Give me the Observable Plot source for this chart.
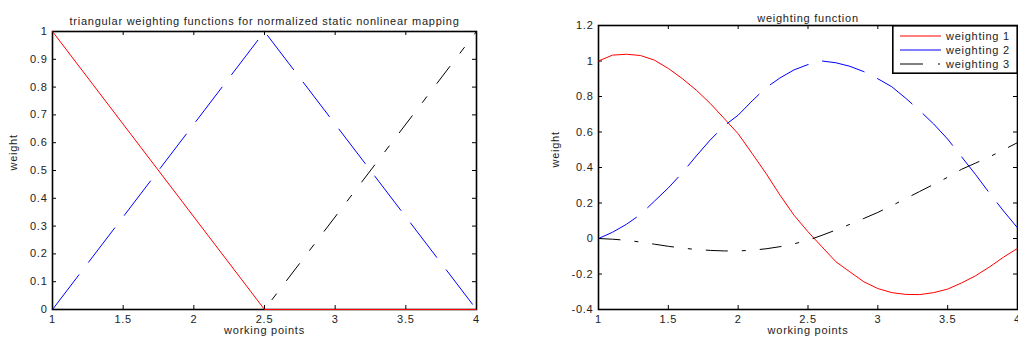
<!DOCTYPE html>
<html><head><meta charset="utf-8">
<script src="https://cdn.jsdelivr.net/npm/d3@7"></script>
<script src="https://cdn.jsdelivr.net/npm/@observablehq/plot@0.6"></script>
<style>
body{margin:0;background:#fff;}
#wrap{position:relative;width:1018px;height:340px;overflow:hidden;font-family:"Liberation Sans",Arial,sans-serif;letter-spacing:0.75px;}
#wrap > svg, #wrap > div{position:absolute;}
</style></head><body><div id="wrap"></div>
<script>
// ---- left panel data (triangular weighting functions) ----
const triX = [1, 2.5, 4];
const tri1 = [1, 0, 0];
const tri2 = [0, 1, 0];
const tri3 = [0, 0, 1];
const leftXTicks = [1, 1.5, 2, 2.5, 3, 3.5, 4];
const leftYTicks = [0, 0.1, 0.2, 0.3, 0.4, 0.5, 0.6, 0.7, 0.8, 0.9, 1];
const leftTitle = "triangular weighting functions for normalized static nonlinear mapping";

// ---- right panel data (weighting function) ----
const wX = [1, 1.1, 1.2, 1.3, 1.4, 1.5, 1.6, 1.7, 1.8, 1.9, 2, 2.1, 2.2, 2.3, 2.4, 2.5, 2.6, 2.7, 2.8, 2.9, 3, 3.1, 3.2, 3.3, 3.4, 3.5, 3.6, 3.7, 3.8, 3.9, 4];
const w1 = [1.0, 1.033, 1.038, 1.031, 1.005, 0.958, 0.901, 0.836, 0.761, 0.676, 0.59, 0.479, 0.366, 0.244, 0.131, 0.038, -0.047, -0.131, -0.188, -0.244, -0.282, -0.305, -0.315, -0.316, -0.305, -0.285, -0.25, -0.21, -0.16, -0.105, -0.056];
const w2 = [0, 0.035, 0.08, 0.135, 0.21, 0.285, 0.37, 0.465, 0.555, 0.635, 0.695, 0.775, 0.85, 0.905, 0.95, 0.98, 1.0, 0.99, 0.97, 0.94, 0.9, 0.855, 0.79, 0.72, 0.645, 0.56, 0.46, 0.36, 0.255, 0.155, 0.06];
const w3 = [0, -0.004, -0.01, -0.02, -0.032, -0.044, -0.054, -0.062, -0.067, -0.07, -0.07, -0.066, -0.058, -0.046, -0.03, -0.01, 0.018, 0.048, 0.08, 0.113, 0.147, 0.185, 0.225, 0.265, 0.305, 0.345, 0.39, 0.425, 0.46, 0.5, 0.54];
const rightXTicks = [1, 1.5, 2, 2.5, 3, 3.5, 4];
const rightYTicks = [-0.4, -0.2, 0, 0.2, 0.4, 0.6, 0.8, 1, 1.2];
const rightTitle = "weighting function";
const seriesNames = ["weighting 1", "weighting 2", "weighting 3"];
const xLabel = "working points";
const yLabel = "weight";

const FONT = "'Liberation Sans', Arial, Helvetica, sans-serif";
const TXT = "#222";

function toRows(xs, ys) { return xs.map((x, i) => ({x, y: ys[i]})); }

function panel(o) {
  const pw = o.width - o.mL - o.mR;
  const ph = 340 - o.mT - o.mB;
  const marks = [
    Plot.frame({stroke: "#000", strokeWidth: 1.6}),
    Plot.tickX(o.xTicks, {x: d => d, insetTop: ph - 4, stroke: "#000"}),
    Plot.tickX(o.xTicks, {x: d => d, insetBottom: ph - 4, stroke: "#000"}),
    Plot.tickY(o.yTicks, {y: d => d, insetRight: pw - 4, stroke: "#000"}),
    Plot.tickY(o.yTicks, {y: d => d, insetLeft: pw - 4, stroke: "#000"}),
    Plot.axisX({ticks: o.xTicks, tickSize: 0, tickPadding: 6, tickFormat: d => String(d), label: null, fill: TXT}),
    Plot.axisY({ticks: o.yTicks, tickSize: 0, tickPadding: 5, tickFormat: d => String(d), label: null, fill: TXT}),
    ...o.lines.map(l => Plot.line(toRows(l.x, l.y), {x: "x", y: "y", stroke: l.stroke, strokeWidth: 1, strokeDasharray: l.dash, strokeLinecap: "butt"})),
    Plot.text([o.title], {text: d => d, frameAnchor: "top", dy: o.titleDy, fontSize: 11, fill: TXT}),
    Plot.text([xLabel], {text: d => d, frameAnchor: "bottom", dy: 24, fontSize: 11, fill: TXT}),
    Plot.text([yLabel], {text: d => d, frameAnchor: "left", dx: o.yLabelDx, rotate: -90, fontSize: 11, fill: TXT})
  ];
  const svg = Plot.plot({
    width: o.width, height: 340,
    marginLeft: o.mL, marginRight: o.mR, marginTop: o.mT, marginBottom: o.mB,
    x: {domain: [1, 4], label: null},
    y: {domain: o.yDomain, label: null},
    style: {fontFamily: FONT, fontSize: "11px", color: TXT, background: "transparent", overflow: "visible", letterSpacing: "0.75px"},
    marks
  });
  svg.style.left = o.left + "px";
  svg.style.top = "0px";
  return svg;
}

const wrap = document.getElementById("wrap");
wrap.appendChild(panel({
  left: 0, width: 540, mL: 52, mR: 64, mT: 31, mB: 31,
  yDomain: [0, 1], xTicks: leftXTicks, yTicks: leftYTicks,
  title: leftTitle, titleDy: -14, yLabelDx: -39,
  lines: [
    {x: triX, y: tri1, stroke: "#ff0000", dash: null},
    {x: triX, y: tri2, stroke: "#0000ff", dash: "44,15"},
    {x: triX, y: tri3, stroke: "#000000", dash: "22,16,8,16"}
  ]
}));
wrap.appendChild(panel({
  left: 540, width: 478, mL: 58, mR: 1, mT: 25, mB: 31,
  yDomain: [-0.4, 1.2], xTicks: rightXTicks, yTicks: rightYTicks,
  title: rightTitle, titleDy: -11, yLabelDx: -43,
  lines: [
    {x: wX, y: w1, stroke: "#ff0000", dash: null},
    {x: wX, y: w2, stroke: "#0000ff", dash: "44,14"},
    {x: wX, y: w3, stroke: "#000000", dash: "22,14,4,14"}
  ]
}));

// legend
const legendColors = ["#ff0000", "#0000ff", "#000000"];
const legendDash = [null, null, "23,15,2"];
const lg = d3.create("svg").attr("width", 126).attr("height", 49)
  .style("left", "892px").style("top", "25px").style("position", "absolute");
lg.append("rect").attr("x", 0.8).attr("y", 0.8).attr("width", 124.4).attr("height", 47.4)
  .attr("fill", "#fff").attr("stroke", "#000").attr("stroke-width", 1.6);
seriesNames.forEach((n, i) => {
  const yy = 11 + i * 14;
  lg.append("line").attr("x1", 8).attr("x2", 49).attr("y1", yy).attr("y2", yy)
    .attr("stroke", legendColors[i]).attr("stroke-width", 1).attr("stroke-dasharray", legendDash[i]);
  lg.append("text").attr("x", 54).attr("y", yy).attr("dy", "0.35em")
    .attr("font-family", FONT).attr("font-size", 11).attr("letter-spacing", "0.75px").attr("fill", TXT).text(n);
});
wrap.appendChild(lg.node());
</script>
</body></html>
